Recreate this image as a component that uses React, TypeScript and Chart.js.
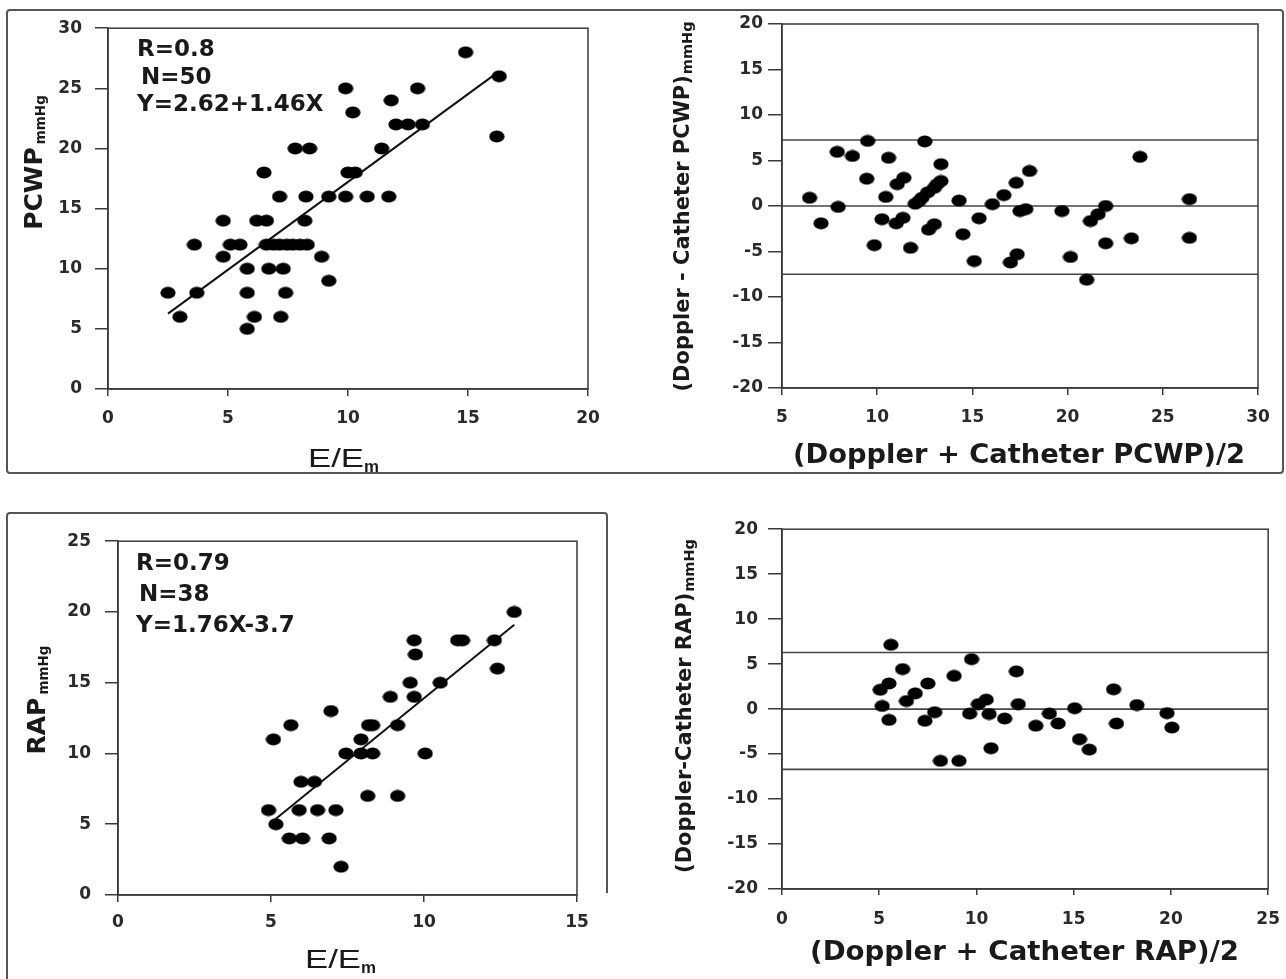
import React, { useEffect, useRef } from "react";
import { Chart, registerables } from "chart.js";

Chart.register(...registerables);

// ---------------- data ----------------
// Top-left: PCWP vs E/Em
const pcwpRatio = [14.9, 16.3, 9.9, 12.9, 11.8, 10.2, 12.0, 12.5, 13.1, 16.2, 7.8, 8.4, 11.4, 6.5, 10.0, 10.3, 7.15, 8.25, 9.2, 9.9, 10.8, 11.7, 4.8, 6.2, 6.6, 8.2, 3.6, 5.1, 5.5, 6.6, 6.9, 7.15, 7.45, 7.7, 8.0, 8.3, 4.8, 8.9, 5.8, 6.7, 7.3, 9.2, 2.5, 3.7, 5.8, 7.4, 3.0, 6.1, 7.2, 5.8];
const pcwpCatheter = [28, 26, 25, 25, 24, 23, 22, 22, 22, 21, 20, 20, 20, 18, 18, 18, 16, 16, 16, 16, 16, 16, 14, 14, 14, 14, 12, 12, 12, 12, 12, 12, 12, 12, 12, 12, 11, 11, 10, 10, 10, 9, 8, 8, 8, 8, 6, 6, 6, 5];
const pcwpFitCoef = [2.62, 1.46];
const pcwpFitRange = [2.5, 16.25];
const pcwpXTicks = [0, 5, 10, 15, 20];
const pcwpYTicks = [0, 5, 10, 15, 20, 25, 30];
const pcwpStats = ["R=0.8", "N=50", "Y=2.62+1.46X"];

// Top-right: Bland-Altman PCWP
const pcwpBAMean = [6.45, 7.05, 7.9, 8.7, 7.95, 9.5, 9.45, 10.45, 10.25, 9.85, 10.6, 11.05, 11.4, 11.0, 11.35, 11.75, 12.5, 12.0, 12.2, 12.35, 12.65, 13.0, 13.15, 13.35, 13.35, 12.7, 13.0, 14.3, 14.5, 15.35, 15.1, 16.05, 16.65, 17.0, 17.35, 17.3, 18.0, 17.5, 17.8, 19.7, 20.15, 21.0, 21.2, 21.6, 22.0, 22.0, 23.35, 23.8, 26.4, 26.4];
const pcwpBADiff = [0.9, -1.9, 5.95, 5.5, -0.1, 7.15, 3.0, 1.0, -1.45, -4.3, 5.3, 2.4, 3.1, -1.9, -1.3, -4.6, 7.1, 0.25, 0.55, 0.9, 1.5, 2.0, 2.4, 2.75, 4.6, -2.6, -2.0, 0.6, -3.1, -1.35, -6.05, 0.2, 1.2, -6.2, -5.3, 2.55, 3.85, -0.55, -0.35, -0.55, -5.6, -8.1, -1.65, -0.9, 0.0, -4.1, -3.55, 5.4, 0.75, -3.5];
const pcwpBALimits = [7.25, 0, -7.5];
const pcwpBAXTicks = [5, 10, 15, 20, 25, 30];
const baYTicks = [-20, -15, -10, -5, 0, 5, 10, 15, 20];

// Bottom-left: RAP vs E/Em
const rapRatio = [6.96, 5.65, 5.08, 7.45, 7.94, 8.32, 10.04, 5.98, 6.42, 4.92, 5.92, 6.52, 7.12, 5.16, 5.6, 6.03, 6.9, 7.29, 12.95, 9.68, 11.1, 11.26, 12.3, 9.72, 12.4, 9.55, 10.53, 8.9, 9.68, 8.19, 8.32, 9.14, 7.94, 8.16, 9.14];
const rapCatheter = [13, 12, 11, 10, 10, 10, 10, 8, 8, 6, 6, 6, 6, 5, 4, 4, 4, 2, 20, 18, 18, 18, 18, 17, 16, 15, 15, 14, 14, 12, 12, 12, 11, 7, 7];
const rapFitCoef = [-3.7, 1.76];
const rapFitRange = [5.1, 12.95];
const rapXTicks = [0, 5, 10, 15];
const rapYTicks = [0, 5, 10, 15, 20, 25];
const rapStats = ["R=0.79", "N=38", "Y=1.76X-3.7"];

// Bottom-right: Bland-Altman RAP
const rapBAMean = [5.6, 6.2, 5.05, 5.5, 5.15, 5.5, 6.4, 6.85, 7.5, 7.35, 7.85, 8.15, 9.1, 8.85, 9.75, 9.65, 10.1, 10.5, 10.65, 11.45, 10.75, 12.05, 12.15, 13.05, 13.75, 14.2, 15.05, 15.3, 15.8, 17.05, 17.2, 18.25, 19.8, 20.05];
const rapBADiff = [7.15, 4.45, 2.15, 2.85, 0.35, -1.2, 0.9, 1.75, 2.85, -1.3, -0.35, -5.75, -5.75, 3.7, 5.55, -0.5, 0.55, 1.05, -0.55, -1.05, -4.35, 4.2, 0.55, -1.85, -0.5, -1.6, 0.1, -3.35, -4.5, 2.2, -1.6, 0.45, -0.45, -2.05];
const rapBALimits = [6.3, 0, -6.7];
const rapBAXTicks = [0, 5, 10, 15, 20, 25];

// ---------------- helpers ----------------
const INK = "#1a1a1a";
const AXIS = "#3a3a3a";

function makeDot(): HTMLCanvasElement {
  const c = document.createElement("canvas");
  c.width = 16;
  c.height = 13;
  const ctx = c.getContext("2d")!;
  ctx.fillStyle = "#000";
  ctx.beginPath();
  ctx.ellipse(8, 6.5, 7.6, 6.1, 0, 0, Math.PI * 2);
  ctx.fill();
  return c;
}

type Area = { left: number; top: number; right: number; bottom: number };
type PanelSpec = {
  area: Area;
  xTicks: number[];
  yTicks: number[];
  yTL: number;
  yPad: number;
  xTL: number;
  xPad: number;
  xs: number[];
  ys: number[];
  fit?: { coef: number[]; range: number[] };
  limits?: number[];
};

const boxPlugin = {
  id: "plotBox",
  afterDraw(chart: any) {
    const { ctx, chartArea } = chart;
    ctx.save();
    ctx.strokeStyle = AXIS;
    ctx.lineWidth = 1.5;
    ctx.strokeRect(chartArea.left, chartArea.top, chartArea.right - chartArea.left, chartArea.bottom - chartArea.top);
    ctx.restore();
  },
};

const PAD_L = 100;
const PAD_T = 20;
const PAD_R = 25;
const PAD_B = 50;

function Panel({ spec }: { spec: PanelSpec }) {
  const ref = useRef<HTMLCanvasElement>(null);
  const W = spec.area.right - spec.area.left;
  const H = spec.area.bottom - spec.area.top;
  const cw = Math.round(W + PAD_L + PAD_R);
  const ch = Math.round(H + PAD_T + PAD_B);

  useEffect(() => {
    const dot = makeDot();
    const xMin = spec.xTicks[0];
    const xMax = spec.xTicks[spec.xTicks.length - 1];
    const yMin = spec.yTicks[0];
    const yMax = spec.yTicks[spec.yTicks.length - 1];
    const datasets: any[] = [
      {
        data: spec.xs.map((x, i) => ({ x, y: spec.ys[i] })),
        pointStyle: dot,
        pointRadius: 6,
        backgroundColor: "#000",
        borderWidth: 0,
        showLine: false,
      },
    ];
    if (spec.fit) {
      const [a, b] = spec.fit.coef;
      datasets.push({
        data: spec.fit.range.map((x) => ({ x, y: a + b * x })),
        showLine: true,
        pointRadius: 0,
        borderColor: "#111",
        borderWidth: 2,
      });
    }
    if (spec.limits) {
      spec.limits.forEach((v) => {
        datasets.push({
          data: [
            { x: xMin, y: v },
            { x: xMax, y: v },
          ],
          showLine: true,
          pointRadius: 0,
          borderColor: "#444",
          borderWidth: 1.6,
        });
      });
    }
    const tickFont = { family: "DejaVu Sans", weight: "bold" as const, size: 17 };
    const chart = new Chart(ref.current!, {
      type: "scatter",
      data: { datasets },
      options: {
        responsive: false,
        animation: false,
        devicePixelRatio: 1,
        layout: { padding: { left: 0, top: PAD_T, right: PAD_R, bottom: 0 } },
        plugins: { legend: { display: false }, tooltip: { enabled: false } },
        scales: {
          x: {
            type: "linear",
            min: xMin,
            max: xMax,
            afterBuildTicks: (s: any) => {
              s.ticks = spec.xTicks.map((value) => ({ value }));
            },
            afterFit: (s: any) => {
              s.height = PAD_B;
            },
            grid: { drawOnChartArea: false, drawTicks: true, tickLength: spec.xTL, color: AXIS, lineWidth: 1.5 },
            border: { display: true, color: AXIS, width: 1.5 },
            ticks: { font: tickFont, color: "#2a2a2a", padding: spec.xPad, maxRotation: 0, autoSkip: false },
          },
          y: {
            type: "linear",
            min: yMin,
            max: yMax,
            afterBuildTicks: (s: any) => {
              s.ticks = spec.yTicks.map((value) => ({ value }));
            },
            afterFit: (s: any) => {
              s.width = PAD_L;
            },
            grid: { drawOnChartArea: false, drawTicks: true, tickLength: spec.yTL, color: AXIS, lineWidth: 1.5 },
            border: { display: true, color: AXIS, width: 1.5 },
            ticks: { font: tickFont, color: "#2a2a2a", padding: spec.yPad, autoSkip: false },
          },
        },
      },
      plugins: [boxPlugin],
    });
    return () => chart.destroy();
  }, []);

  return (
    <canvas
      ref={ref}
      width={cw}
      height={ch}
      style={{
        position: "absolute",
        left: spec.area.left - PAD_L,
        top: spec.area.top - PAD_T,
        width: cw,
        height: ch,
      }}
    />
  );
}

const panels: PanelSpec[] = [
  {
    area: { left: 107.5, top: 24.5, right: 587, bottom: 388.5 },
    xTicks: pcwpXTicks,
    yTicks: pcwpYTicks,
    yTL: 13,
    yPad: 13,
    xTL: 7,
    xPad: 12,
    xs: pcwpRatio,
    ys: pcwpCatheter,
    fit: { coef: pcwpFitCoef, range: pcwpFitRange },
  },
  {
    area: { left: 781.5, top: 24, right: 1257, bottom: 388 },
    xTicks: pcwpBAXTicks,
    yTicks: baYTicks,
    yTL: 14,
    yPad: 5,
    xTL: 7,
    xPad: 12,
    xs: pcwpBAMean,
    ys: pcwpBADiff,
    limits: pcwpBALimits,
  },
  {
    area: { left: 117.5, top: 537, right: 576.5, bottom: 895 },
    xTicks: rapXTicks,
    yTicks: rapYTicks,
    yTL: 13,
    yPad: 14,
    xTL: 7,
    xPad: 10,
    xs: rapRatio,
    ys: rapCatheter,
    fit: { coef: rapFitCoef, range: rapFitRange },
  },
  {
    area: { left: 781.5, top: 528.5, right: 1268.5, bottom: 888.5 },
    xTicks: rapBAXTicks,
    yTicks: baYTicks,
    yTL: 14,
    yPad: 10,
    xTL: 6,
    xPad: 14,
    xs: rapBAMean,
    ys: rapBADiff,
    limits: rapBALimits,
  },
];

const bold = "DejaVu Sans";

export default function App() {
  return (
    <div style={{ position: "absolute", left: 0, top: 0, width: 1286, height: 979, overflow: "hidden", background: "#fff" }}>
      {panels.map((p, i) => (
        <Panel key={i} spec={p} />
      ))}
      <svg width={1286} height={979} style={{ position: "absolute", left: 0, top: 0, pointerEvents: "none" }}>
        {/* frames */}
        <rect x={7} y={10} width={1276} height={463} rx={3} fill="none" stroke="#555" strokeWidth={2} />
        <path d="M7 979 L7 516 Q7 513 10 513 L604 513 Q607 513 607 516 L607 893" fill="none" stroke="#555" strokeWidth={2} />

        {/* stats top-left */}
        <g fontFamily={bold} fontWeight="bold" fontSize={23} fill={INK}>
          <text x={137} y={56}>{pcwpStats[0]}</text>
          <text x={141} y={84}>{pcwpStats[1]}</text>
          <text x={137} y={111}>{pcwpStats[2]}</text>
          <text x={136} y={570}>{rapStats[0]}</text>
          <text x={139} y={601}>{rapStats[1]}</text>
          <text x={136} y={632}>{rapStats[2]}</text>
        </g>

        {/* E/Em titles */}
        <g fill={INK}>
          <text x={308} y={467} fontFamily="Liberation Sans" fontSize={25} textLength={56} lengthAdjust="spacingAndGlyphs">E/E</text>
          <text x={364} y={472} fontFamily="Liberation Sans" fontWeight="bold" fontSize={16} textLength={15} lengthAdjust="spacingAndGlyphs">m</text>
          <text x={305} y={968} fontFamily="Liberation Sans" fontSize={25} textLength={56} lengthAdjust="spacingAndGlyphs">E/E</text>
          <text x={361} y={973} fontFamily="Liberation Sans" fontWeight="bold" fontSize={16} textLength={15} lengthAdjust="spacingAndGlyphs">m</text>
        </g>

        {/* Bland-Altman x titles */}
        <g fontFamily={bold} fontWeight="bold" fill={INK}>
          <text x={793} y={463} fontSize={27} textLength={452} lengthAdjust="spacingAndGlyphs">(Doppler + Catheter PCWP)/2</text>
          <text x={810} y={960} fontSize={27} textLength={429} lengthAdjust="spacingAndGlyphs">(Doppler + Catheter RAP)/2</text>
        </g>

        {/* y titles */}
        <g fontFamily={bold} fontWeight="bold" fill={INK} textAnchor="middle">
          <text transform="translate(42 162.5) rotate(-90)">
            <tspan fontSize={25}>PCWP</tspan>
            <tspan fontSize={13.5} dx={3} dy={3}>mmHg</tspan>
          </text>
          <text transform="translate(689 206.5) rotate(-90)">
            <tspan fontSize={21}>(Doppler - Catheter PCWP)</tspan>
            <tspan fontSize={14.5} dx={1} dy={3}>mmHg</tspan>
          </text>
          <text transform="translate(45 700) rotate(-90)">
            <tspan fontSize={25}>RAP</tspan>
            <tspan fontSize={13.5} dx={3} dy={3}>mmHg</tspan>
          </text>
          <text transform="translate(691 706) rotate(-90)">
            <tspan fontSize={21}>(Doppler-Catheter RAP)</tspan>
            <tspan fontSize={14.5} dx={1} dy={3}>mmHg</tspan>
          </text>
        </g>
      </svg>
    </div>
  );
}
